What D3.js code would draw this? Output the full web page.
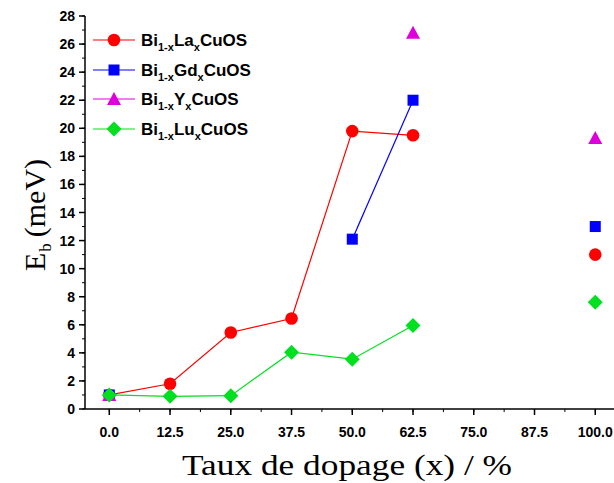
<!DOCTYPE html>
<html><head><meta charset="utf-8">
<script src="https://cdn.jsdelivr.net/npm/d3@7"></script>
<style>body{margin:0;background:#fff}svg{display:block}</style>
</head><body>
<svg id="c" width="614" height="483"></svg>
<script>
const xTicks = [0, 12.5, 25, 37.5, 50, 62.5, 75, 87.5, 100];
const yTicks = [0, 2, 4, 6, 8, 10, 12, 14, 16, 18, 20, 22, 24, 26, 28];
const xLa = [0, 12.5, 25, 37.5, 50, 62.5, 100];
const yLa = [1.0, 1.8, 5.45, 6.45, 19.8, 19.5, 11.0];
const xGd = [0, 50, 62.5, 100];
const yGd = [1.0, 12.1, 22.0, 13.0];
const xY = [0, 62.5, 100];
const yY = [1.0, 26.8, 19.3];
const xLu = [0, 12.5, 25, 37.5, 50, 62.5, 100];
const yLu = [1.0, 0.9, 0.95, 4.05, 3.55, 5.95, 7.6];
// segments drawn as lines (index ranges connected)
const lineLa = [0, 5];
const lineGd = [1, 2];
const lineY = null;
const lineLu = [0, 5];

const series = [
  {name: "La", xs: xLa, ys: yLa, line: lineLa, color: "#ff0000", shape: "circle"},
  {name: "Gd", xs: xGd, ys: yGd, line: lineGd, color: "#0000ff", shape: "square"},
  {name: "Y", xs: xY, ys: yY, line: lineY, color: "#dd00dd", shape: "triangle"},
  {name: "Lu", xs: xLu, ys: yLu, line: lineLu, color: "#00e020", shape: "diamond"}
];

const svg = d3.select("#c");
const x = d3.scaleLinear().domain([-5, 104]).range([85, 614.7]);
const y = d3.scaleLinear().domain([0, 28]).range([409, 16]);

// axes
const gx = svg.append("g").attr("transform", "translate(0,409)");
gx.append("line").attr("x1", 85).attr("x2", 614).attr("stroke", "#000").attr("stroke-width", 1.5);
const xMinor = d3.range(0, 104, 6.25);
gx.selectAll(".xm").data(xMinor).join("line").attr("x1", d => x(d)).attr("x2", d => x(d))
  .attr("y1", 0).attr("y2", 3).attr("stroke", "#000").attr("stroke-width", 1);
gx.selectAll(".xM").data(xTicks).join("line").attr("x1", d => x(d)).attr("x2", d => x(d))
  .attr("y1", 0).attr("y2", 6).attr("stroke", "#000").attr("stroke-width", 1.5);
gx.selectAll("text").data(xTicks).join("text").attr("x", d => x(d)).attr("y", 28)
  .attr("text-anchor", "middle").attr("font-family", "Liberation Sans, Arial, sans-serif")
  .attr("font-weight", "bold").attr("font-size", 14).text(d => d.toFixed(1));

const gy = svg.append("g");
gy.append("line").attr("x1", 85).attr("x2", 85).attr("y1", 16).attr("y2", 409).attr("stroke", "#000").attr("stroke-width", 1.5);
const yMinor = d3.range(0, 29, 1);
gy.selectAll(".ym").data(yMinor).join("line").attr("x1", 82).attr("x2", 85)
  .attr("y1", d => y(d)).attr("y2", d => y(d)).attr("stroke", "#000").attr("stroke-width", 1);
gy.selectAll(".yM").data(yTicks).join("line").attr("x1", 79).attr("x2", 85)
  .attr("y1", d => y(d)).attr("y2", d => y(d)).attr("stroke", "#000").attr("stroke-width", 1.5);
gy.selectAll("text").data(yTicks).join("text").attr("x", 75).attr("y", d => y(d) + 5)
  .attr("text-anchor", "end").attr("font-family", "Liberation Sans, Arial, sans-serif")
  .attr("font-weight", "bold").attr("font-size", 14).text(d => d);

// titles
svg.append("text").attr("x", 347).attr("y", 475).attr("text-anchor", "middle")
  .attr("font-family", "Liberation Serif, Times New Roman, serif").attr("font-size", 29)
  .attr("textLength", 330).attr("lengthAdjust", "spacingAndGlyphs")
  .text("Taux de dopage (x) / %");
const yt = svg.append("text").attr("transform", "translate(45,215) rotate(-90)").attr("text-anchor", "middle")
  .attr("font-family", "Liberation Serif, Times New Roman, serif").attr("font-size", 30);
yt.append("tspan").text("E");
yt.append("tspan").attr("font-size", 17).attr("dy", 6).attr("dx", 1).text("b");
yt.append("tspan").attr("dy", -6).attr("dx", 6).text("(meV)");

function marker(g, shape, color, cx, cy) {
  if (shape === "circle") g.append("circle").attr("cx", cx).attr("cy", cy).attr("r", 6.3).attr("fill", color);
  else if (shape === "square") g.append("rect").attr("x", cx - 5.5).attr("y", cy - 5.5).attr("width", 11).attr("height", 11).attr("fill", color);
  else if (shape === "triangle") g.append("path").attr("d", `M${cx},${cy-7}L${cx+7},${cy+6}L${cx-7},${cy+6}Z`).attr("fill", color);
  else g.append("path").attr("d", `M${cx},${cy-7.5}L${cx+7.5},${cy}L${cx},${cy+7.5}L${cx-7.5},${cy}Z`).attr("fill", color);
}

const plot = svg.append("g");
series.forEach(s => {
  const pts = s.xs.map((v, i) => [v, s.ys[i]]);
  if (s.line) {
    const seg = pts.slice(s.line[0], s.line[1] + 1);
    plot.append("path").attr("d", d3.line().x(d => x(d[0])).y(d => y(d[1]))(seg))
      .attr("fill", "none").attr("stroke", s.color).attr("stroke-width", 1.2);
  }
});
series.forEach(s => {
  s.xs.forEach((v, i) => marker(plot, s.shape, s.color, x(v), y(s.ys[i])));
});

// legend
const leg = svg.append("g");
const legY = [40, 70, 99, 129];
series.forEach((s, i) => {
  const ly = legY[i];
  leg.append("line").attr("x1", 93).attr("x2", 135).attr("y1", ly).attr("y2", ly).attr("stroke", s.color).attr("stroke-width", 1.2);
  marker(leg, s.shape, s.color, 114, ly);
  const t = leg.append("text").attr("x", 141).attr("y", ly + 6)
    .attr("font-family", "Liberation Sans, Arial, sans-serif").attr("font-weight", "bold").attr("font-size", 17);
  t.append("tspan").text("Bi");
  t.append("tspan").attr("font-size", 11).attr("dy", 5).text("1-x");
  t.append("tspan").attr("dy", -5).text(s.name);
  t.append("tspan").attr("font-size", 11).attr("dy", 5).text("x");
  t.append("tspan").attr("dy", -5).text("CuOS");
});
</script>
</body></html>
